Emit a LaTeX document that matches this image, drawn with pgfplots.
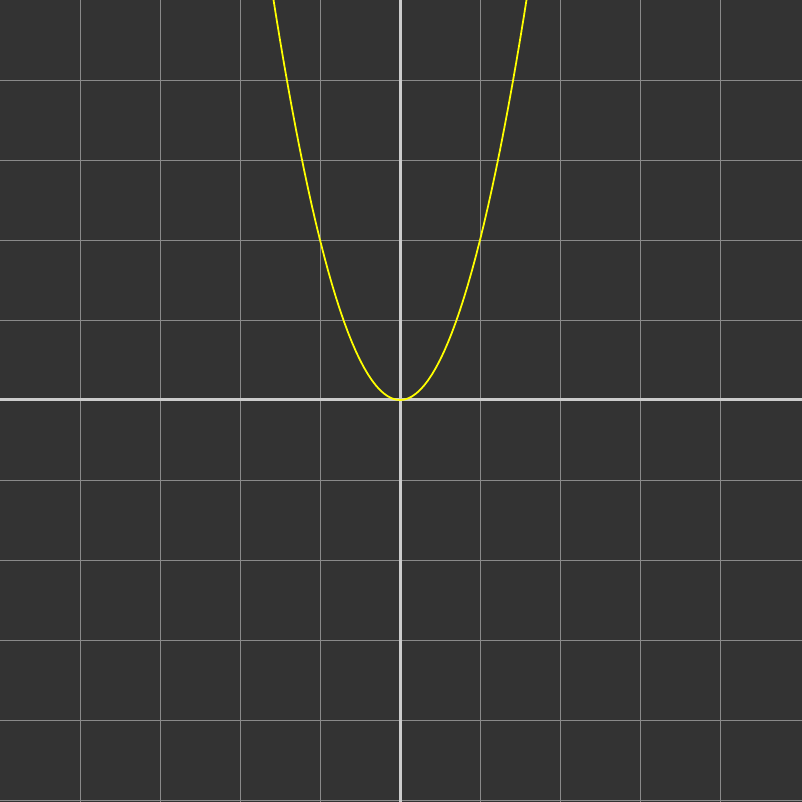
\documentclass[border=0pt]{standalone}
\usepackage{pgfplots}
\pgfplotsset{compat=1.18}
\definecolor{bg}{HTML}{333333}
\definecolor{gridc}{HTML}{8A8A8A}
\definecolor{axc}{HTML}{CCCCCC}
\definecolor{curve}{HTML}{FFFF00}
\begin{document}
\begin{tikzpicture}
\begin{axis}[
  scale only axis, width=8.02cm, height=8.02cm,
  xmin=-5, xmax=5.025, ymin=-5.025, ymax=5,
  axis background/.style={fill=bg},
  axis line style={draw=none},
  major tick length=0pt,
  xtick={-4,-3,-2,-1,1,2,3,4},
  ytick={-5,-4,-3,-2,-1,1,2,3,4},
  xticklabels={}, yticklabels={},
  grid=major,
  grid style={gridc, line width=0.25pt},
  extra x ticks={0}, extra y ticks={0},
  extra x tick labels={}, extra y tick labels={},
  extra tick style={grid style={axc, line width=0.85pt}, major tick length=0pt},
  clip=true,
]
\addplot[curve, line width=0.5pt] coordinates {
(-1.6,5.12)(-1.55,4.805)(-1.5,4.5)(-1.45,4.205)(-1.4,3.92)(-1.35,3.645)(-1.3,3.38)(-1.25,3.125)(-1.2,2.88)(-1.15,2.645)(-1.1,2.42)(-1.05,2.205)(-1.0,2)(-0.95,1.805)(-0.9,1.62)(-0.85,1.445)(-0.8,1.28)(-0.75,1.125)(-0.7,0.98)(-0.65,0.845)(-0.6,0.72)(-0.55,0.605)(-0.5,0.5)(-0.45,0.405)(-0.4,0.32)(-0.35,0.245)(-0.3,0.18)(-0.25,0.125)(-0.2,0.08)(-0.15,0.045)(-0.1,0.02)(-0.05,0.005)(0,0)
(0.05,0.005)(0.1,0.02)(0.15,0.045)(0.2,0.08)(0.25,0.125)(0.3,0.18)(0.35,0.245)(0.4,0.32)(0.45,0.405)(0.5,0.5)(0.55,0.605)(0.6,0.72)(0.65,0.845)(0.7,0.98)(0.75,1.125)(0.8,1.28)(0.85,1.445)(0.9,1.62)(0.95,1.805)(1.0,2)(1.05,2.205)(1.1,2.42)(1.15,2.645)(1.2,2.88)(1.25,3.125)(1.3,3.38)(1.35,3.645)(1.4,3.92)(1.45,4.205)(1.5,4.5)(1.55,4.805)(1.6,5.12)
};
\end{axis}
\pgfresetboundingbox
\useasboundingbox (current axis.south west) rectangle (current axis.north east);
\end{tikzpicture}
\end{document}
